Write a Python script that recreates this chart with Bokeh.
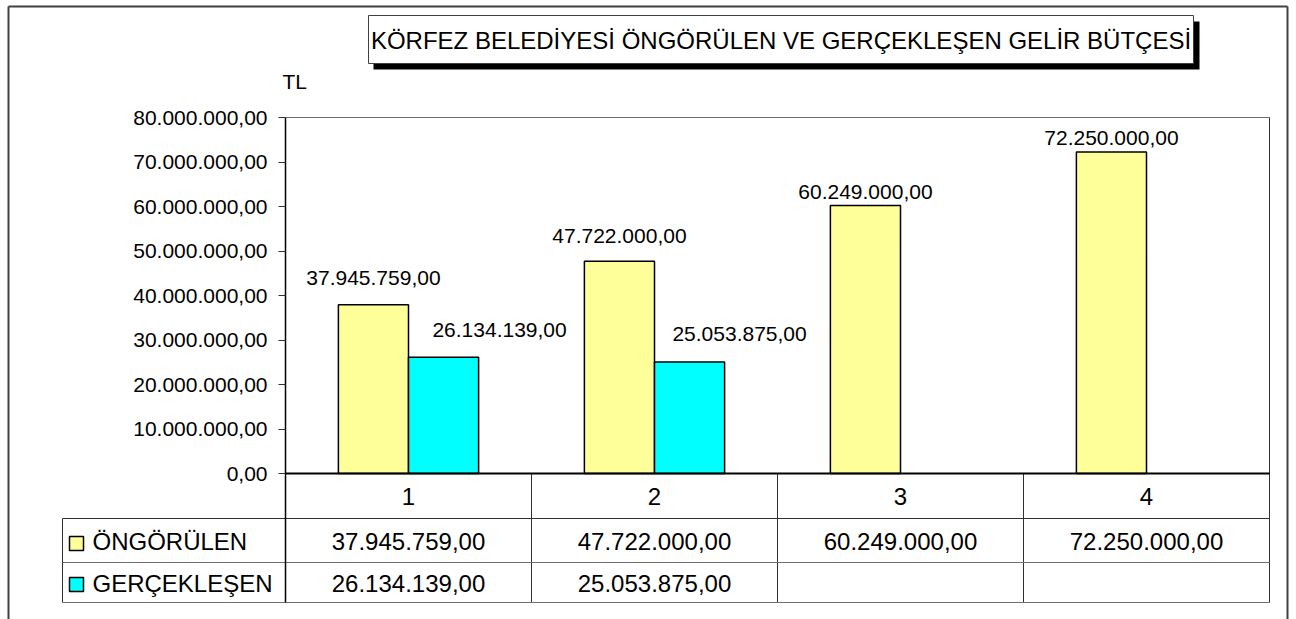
from bokeh.plotting import figure
from bokeh.models import ColumnDataSource, FixedTicker, CustomJSTickFormatter, Range1d
from bokeh.core.properties import value
from bokeh.embed import file_html
from bokeh.resources import INLINE

# ---------------- data ----------------
categories = ["1", "2", "3", "4"]
ongorulen = [37945759.00, 47722000.00, 60249000.00, 72250000.00]
gerceklesen = [26134139.00, 25053875.00, None, None]
series_names = ["ÖNGÖRÜLEN", "GERÇEKLEŞEN"]
title_text = "KÖRFEZ BELEDİYESİ ÖNGÖRÜLEN VE GERÇEKLEŞEN GELİR BÜTÇESİ"
unit_text = "TL"
y_ticks = [0, 10000000, 20000000, 30000000, 40000000, 50000000, 60000000, 70000000, 80000000]
y_max = 80000000

# ---------------- style ----------------
FONT = "Liberation Sans"
YELLOW = "#FFFF99"
CYAN = "#00FFFF"
DARK = "#303030"
GRAY = "#707070"
BAR_W = 0.285
# label offsets in screen px (dx right, dy up from bar top)
ong_lbl_dx = [0, 0, 0, 0]
ong_lbl_dy = [27, 25, 13, 14]
ger_lbl_dx = [56, 50]
ger_lbl_dy = [27, 28]

# canvas-pixel layout (frame covers the whole canvas)
W, H = 1296, 619
FL, FR, FT = 285, 1269, 117      # plot-area left / right / top
Y0PX = 473                       # baseline (value 0)
ROW1, ROW2, TB = 518, 562, 602   # data-table row lines / bottom
TBL_L = 62                       # data-table left edge
NCAT = len(categories)


def dx(px):
    return (px - FL) / (FR - FL) * NCAT


def dy(py):
    return (Y0PX - py) / (Y0PX - FT) * y_max


def tr_fmt(v):
    s = f"{v:,.2f}"
    return s.replace(",", "X").replace(".", ",").replace("X", ".")


p = figure(width=W, height=H, x_range=Range1d(dx(0), dx(W)), y_range=Range1d(dy(H), dy(0)),
           output_backend="svg", toolbar_location=None, x_axis_location=None,
           min_border_left=0, min_border_right=0, min_border_top=0, min_border_bottom=0)
p.xgrid.visible = False
p.ygrid.visible = False
p.outline_line_color = None
p.background_fill_color = "white"
p.border_fill_color = "white"

yax = p.yaxis[0]
yax.fixed_location = 0
yax.bounds = (dy(TB), y_max)
yax.ticker = FixedTicker(ticks=y_ticks, minor_ticks=[])
yax.formatter = CustomJSTickFormatter(code="""
const parts = tick.toFixed(2).split(".");
parts[0] = parts[0].replace(/\\B(?=(\\d{3})+(?!\\d))/g, ".");
return parts[0] + "," + parts[1];
""")
yax.axis_line_color = "black"
yax.axis_line_width = 1.5
yax.major_tick_out = 7
yax.major_tick_in = 0
yax.major_tick_line_color = DARK
yax.minor_tick_out = 0
yax.minor_tick_in = 0
yax.major_label_standoff = 11
yax.major_label_text_font = FONT
yax.major_label_text_font_size = "21px"
yax.major_label_text_color = "black"

# ---------------- outer chart border ----------------
p.segment(x0=[dx(8), dx(1287), dx(8)], y0=[dy(6), dy(6), dy(6)],
          x1=[dx(8), dx(1287), dx(1287)], y1=[dy(H + 5), dy(H + 5), dy(6)],
          line_color="#404040", line_width=2)

# ---------------- title with shadow ----------------
p.quad(left=dx(373), right=dx(1199), top=dy(21), bottom=dy(69), fill_color="black", line_alpha=0)
p.quad(left=dx(368), right=dx(1193), top=dy(15), bottom=dy(63), fill_color="white",
       line_color="#404040", line_width=1)
p.text(x=[dx(780.5)], y=[dy(39.5)], text=[title_text], text_font=value(FONT),
       text_font_size="24px", text_align="center", text_baseline="middle", text_color="black")
p.text(x=[dx(282)], y=[dy(81)], text=[unit_text], text_font=value(FONT), text_font_size="21px",
       text_align="left", text_baseline="middle", text_color="black")

# ---------------- plot-area border & data-table grid ----------------
p.segment(x0=[0], y0=[y_max], x1=[NCAT], y1=[y_max], line_color=GRAY, line_width=1)
p.segment(x0=[NCAT], y0=[y_max], x1=[NCAT], y1=[dy(TB)], line_color=DARK, line_width=1)
p.segment(x0=[1, 2, 3, dx(TBL_L)], y0=[0, 0, 0, dy(ROW1)], x1=[1, 2, 3, dx(TBL_L)],
          y1=[dy(TB)] * 4, line_color=DARK, line_width=1)
p.segment(x0=[dx(TBL_L)] * 3, y0=[dy(ROW1), dy(ROW2), dy(TB)], x1=[NCAT] * 3,
          y1=[dy(ROW1), dy(ROW2), dy(TB)], line_color=[DARK, GRAY, GRAY], line_width=1)

# ---------------- bars ----------------
xs_c = [i + 0.5 for i in range(NCAT)]
src_o = ColumnDataSource(dict(x=[c - BAR_W / 2 for c in xs_c], top=ongorulen,
                              lbl=[tr_fmt(v) for v in ongorulen],
                              xo=ong_lbl_dx, yo=[-d for d in ong_lbl_dy]))
gi = [i for i, v in enumerate(gerceklesen) if v is not None]
src_g = ColumnDataSource(dict(x=[xs_c[i] + BAR_W / 2 for i in gi], top=[gerceklesen[i] for i in gi],
                              lbl=[tr_fmt(gerceklesen[i]) for i in gi],
                              xo=ger_lbl_dx, yo=[-d for d in ger_lbl_dy]))
p.vbar(x="x", top="top", bottom=0, width=BAR_W, source=src_o, fill_color=YELLOW,
       line_color="black", line_width=1.5)
p.vbar(x="x", top="top", bottom=0, width=BAR_W, source=src_g, fill_color=CYAN,
       line_color="black", line_width=1.5)

# category axis line
p.segment(x0=[0], y0=[0], x1=[NCAT], y1=[0], line_color="black", line_width=2)

# data labels
for src in (src_o, src_g):
    p.text(x="x", y="top", text="lbl", x_offset="xo", y_offset="yo", source=src,
           text_font=value(FONT), text_font_size="21px", text_align="center",
           text_baseline="middle", text_color="black")

# ---------------- data-table texts ----------------
p.text(x=xs_c, y=[dy(495.5)] * NCAT, text=categories, text_font=value(FONT),
       text_font_size="24px", text_align="center", text_baseline="middle", text_color="black")
p.text(x=xs_c, y=[dy(541)] * NCAT, text=[tr_fmt(v) for v in ongorulen], text_font=value(FONT),
       text_font_size="24px", text_align="center", text_baseline="middle", text_color="black")
p.text(x=[xs_c[i] for i in gi], y=[dy(583)] * len(gi), text=[tr_fmt(gerceklesen[i]) for i in gi],
       text_font=value(FONT), text_font_size="24px", text_align="center", text_baseline="middle",
       text_color="black")

# legend keys and series names in the table
p.quad(left=[dx(69)] * 2, right=[dx(83)] * 2, top=[dy(536), dy(577)], bottom=[dy(550), dy(591)],
       fill_color=[YELLOW, CYAN], line_color="black", line_width=1.5)
p.text(x=[dx(92)] * 2, y=[dy(541), dy(583)], text=series_names, text_font=value(FONT),
       text_font_size="24px", text_align="left", text_baseline="middle", text_color="black")

open("out.html", "w").write(file_html(p, INLINE))
